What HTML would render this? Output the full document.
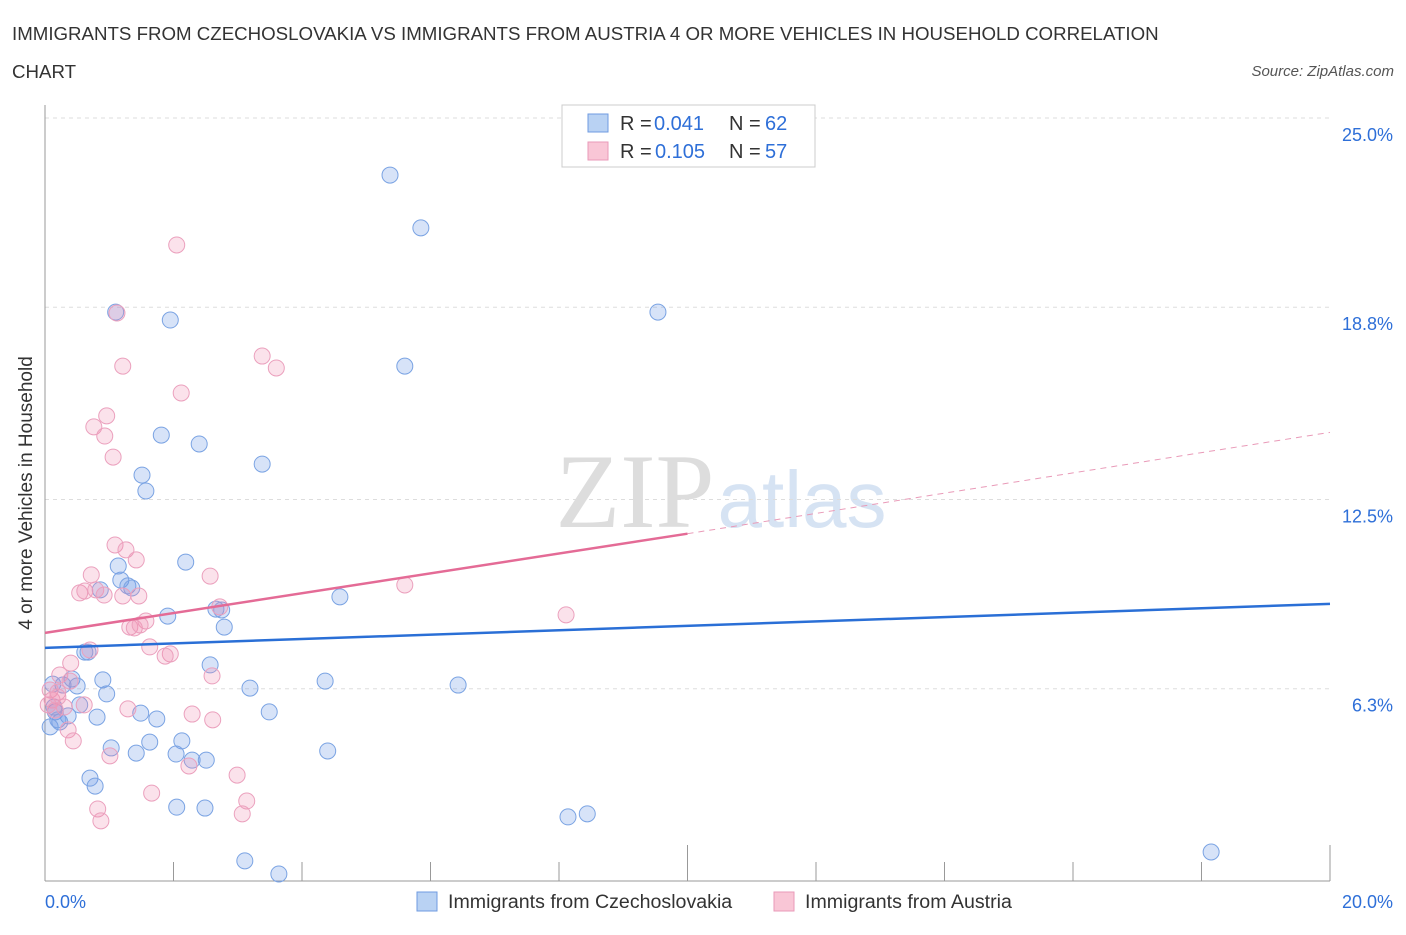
<!DOCTYPE html>
<html><head><meta charset="utf-8"><style>
body{margin:0;background:#fff;font-family:"Liberation Sans",sans-serif;}
</style></head><body>
<svg width="1406" height="930" xmlns="http://www.w3.org/2000/svg" font-family="Liberation Sans, sans-serif">
<text x="12" y="40" font-size="18.7" fill="#333">IMMIGRANTS FROM CZECHOSLOVAKIA VS IMMIGRANTS FROM AUSTRIA 4 OR MORE VEHICLES IN HOUSEHOLD CORRELATION</text>
<text x="12" y="78" font-size="18.7" fill="#333">CHART</text>
<text x="1394" y="76" font-size="15" fill="#555" text-anchor="end" font-style="italic">Source: ZipAtlas.com</text>
<text x="635" y="527" font-size="106" fill="#ddd" font-family="Liberation Serif, serif" text-anchor="middle">ZIP</text>
<text x="802" y="527" font-size="80" fill="#d6e3f3" text-anchor="middle">atlas</text>
<g id="grid"></g>
<g id="axes"></g>
<g id="pts"></g>
<g id="lines"></g>
<text x="32" y="493" font-size="19" fill="#333" text-anchor="middle" transform="rotate(-90 32 493)">4 or more Vehicles in Household</text>
<g>
<rect x="562" y="105" width="253" height="62" fill="#fff" stroke="#ccc"/>
<rect x="588" y="114" width="20" height="18" fill="#b9d2f3" stroke="#6f9be0"/>
<rect x="588" y="142" width="20" height="18" fill="#f9c6d6" stroke="#e99ab8"/>
<text x="620" y="130" font-size="20" fill="#333">R =</text><text x="654" y="130" font-size="20" fill="#2e6fd8">0.041</text>
<text x="729" y="130" font-size="20" fill="#333">N =</text><text x="765" y="130" font-size="20" fill="#2e6fd8">62</text>
<text x="620" y="158" font-size="20" fill="#333">R =</text><text x="655" y="158" font-size="20" fill="#2e6fd8">0.105</text>
<text x="729" y="158" font-size="20" fill="#333">N =</text><text x="765" y="158" font-size="20" fill="#2e6fd8">57</text>
</g>
<g>
<rect x="417" y="892" width="20" height="19" fill="#b9d2f3" stroke="#6f9be0"/>
<text x="448" y="908" font-size="19.6" fill="#333">Immigrants from Czechoslovakia</text>
<rect x="774" y="892" width="20" height="19" fill="#f9c6d6" stroke="#e99ab8"/>
<text x="805" y="908" font-size="19.6" fill="#333">Immigrants from Austria</text>
</g>
</svg>
<script>
const yTicks=[25.0,18.8,12.5,6.3];
const yTickLabels=["25.0%","18.8%","12.5%","6.3%"];
const xTickLabels=["0.0%","20.0%"];
const blueX=[5.37,5.85,9.54,1.1,1.95,5.6,1.81,2.4,3.38,1.51,1.57,2.19,1.14,1.18,1.29,0.86,1.35,4.59,1.91,2.66,2.75,2.79,0.62,0.67,2.57,0.12,0.42,0.28,0.5,0.9,0.96,3.19,4.36,6.43,0.16,0.36,0.81,0.23,1.49,1.74,3.49,0.54,0.08,1.03,1.63,2.13,1.42,2.04,2.29,2.51,4.4,0.7,0.78,2.05,2.49,3.11,3.64,8.14,8.44,18.15,0.14,0.2];
const blueY=[23.13,21.4,18.64,18.64,18.38,16.87,14.61,14.32,13.66,13.3,12.78,10.45,10.32,9.86,9.67,9.54,9.6,9.31,8.68,8.91,8.88,8.32,7.5,7.5,7.08,6.45,6.62,6.42,6.39,6.59,6.13,6.32,6.55,6.42,5.54,5.41,5.37,5.21,5.5,5.31,5.54,5.77,5.05,4.36,4.55,4.59,4.19,4.16,3.96,3.96,4.26,3.37,3.11,2.42,2.39,0.66,0.23,2.1,2.2,0.95,5.7,5.28];
const pinkX=[2.05,1.12,1.21,3.38,3.6,2.12,0.96,0.76,0.93,1.06,1.09,1.26,1.42,0.72,2.57,0.54,0.62,0.79,0.92,1.21,1.46,5.6,2.72,8.11,1.57,1.32,1.39,1.48,1.63,1.95,1.87,0.7,0.4,0.23,2.6,0.08,0.2,0.39,0.11,0.05,0.3,0.61,1.29,2.29,2.61,0.36,0.44,1.01,2.24,2.99,1.66,3.14,0.82,3.07,0.87,0.2,0.16];
const pinkY=[20.84,18.61,16.87,17.2,16.81,15.99,15.24,14.88,14.58,13.89,11.01,10.85,10.52,10.03,9.99,9.44,9.5,9.54,9.37,9.34,9.34,9.7,8.98,8.72,8.52,8.32,8.29,8.39,7.67,7.44,7.37,7.57,7.14,6.75,6.72,6.26,6.19,6.55,5.93,5.77,5.7,5.77,5.64,5.47,5.28,4.95,4.59,4.1,3.77,3.47,2.88,2.62,2.36,2.2,1.97,6.03,5.6];
const blueLine=[7.64,9.08];
const pinkLine=[8.13,11.38,14.7];
const X=v=>45+v*64.25, Y=v=>881-v*30.52;
const NS="http://www.w3.org/2000/svg";
function mk(p,tag,a){const e=document.createElementNS(NS,tag);for(const k in a)e.setAttribute(k,a[k]);document.getElementById(p).appendChild(e);return e;}
yTicks.forEach((t,i)=>{
 const g=mk('grid','line',{x1:45,x2:1330,y1:Y(t),y2:Y(t),stroke:'#ddd','stroke-dasharray':'4 4'});
 
 
 const l=mk('grid','text',{x:1393,y:Y(t)+23,'font-size':18,fill:'#2e6fd8','text-anchor':'end'});l.textContent=yTickLabels[i];
 
 
});
let ax=mk('axes','line',{x1:45,x2:45,y1:105,y2:881,stroke:'#999'});


ax=mk('axes','line',{x1:45,x2:1330,y1:881,y2:881,stroke:'#999'});


for(let i=0;i<=10;i++){const x=X(i*2);const t=mk('axes','line',{x1:x,x2:x,y1:(i==5||i==10)?845:862,y2:881,stroke:'#999'});
 
 }
[[0,'start'],[20,'end']].forEach((d,i)=>{const t=mk('axes','text',{x:i?1393:45,y:908,'font-size':18,fill:'#2e6fd8','text-anchor':d[1]});t.textContent=xTickLabels[i];
 
 });
blueX.forEach((v,i)=>{const c=mk('pts','circle',{cx:X(v),cy:Y(blueY[i]),r:8,fill:'rgba(110,155,230,0.28)',stroke:'#7aa3e3','stroke-width':1});
 
 });
pinkX.forEach((v,i)=>{const c=mk('pts','circle',{cx:X(v),cy:Y(pinkY[i]),r:8,fill:'rgba(240,140,175,0.25)',stroke:'#eba0bd','stroke-width':1});
 
 });
let ln=mk('lines','line',{x1:X(0),y1:Y(blueLine[0]),x2:X(20),y2:Y(blueLine[1]),stroke:'#2a6fd6','stroke-width':2.5});


ln=mk('lines','line',{x1:X(0),y1:Y(pinkLine[0]),x2:X(10),y2:Y(pinkLine[1]),stroke:'#e46b96','stroke-width':2.5});


ln=mk('lines','line',{x1:X(10),y1:Y(pinkLine[1]),x2:X(20),y2:Y(pinkLine[2]),stroke:'#e99ab8','stroke-width':1,'stroke-dasharray':'6 5'});


</script>
</body></html>
